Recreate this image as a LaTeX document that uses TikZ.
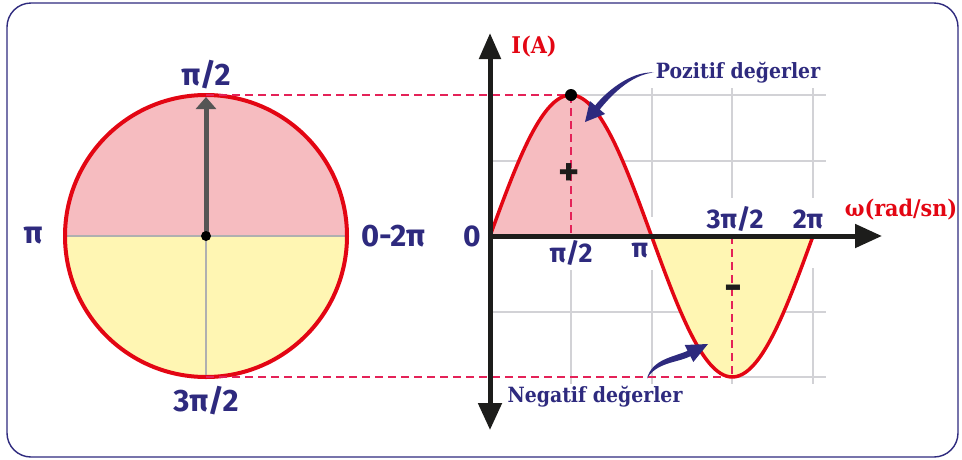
\documentclass[tikz,border=0pt]{standalone}
\usepackage{fontspec}
\setsansfont{Fira Sans}
\newfontfamily\slabfont{DejaVu Serif}[FakeStretch=0.9]
\usepackage{tikz}
\usetikzlibrary{arrows.meta,calc}

\definecolor{navy}{RGB}{46,42,126}
\definecolor{curvered}{RGB}{227,6,19}
\definecolor{posfill}{RGB}{246,188,192}
\definecolor{negfill}{RGB}{255,246,179}
\definecolor{dashred}{RGB}{228,34,88}
\definecolor{gridgray}{RGB}{210,210,214}
\definecolor{axisgray}{RGB}{176,176,176}
\definecolor{phasorgray}{RGB}{85,85,85}
\definecolor{axisblack}{RGB}{29,29,27}

\begin{document}
\begin{tikzpicture}[
    x=1pt, y=-1pt,
    frame/.style={draw=navy, line width=1.4pt, rounded corners=24pt},
    angle/.style={font=\sffamily\bfseries\fontsize{31}{31}\selectfont, text=navy, inner sep=0pt},
    tick/.style={font=\sffamily\bfseries\fontsize{27}{27}\selectfont, text=navy, inner sep=0pt},
    axislabel/.style={font=\slabfont\bfseries\fontsize{23}{23}\selectfont, text=curvered, inner sep=0pt},
    note/.style={font=\slabfont\bfseries\fontsize{21}{21}\selectfont, text=navy, inner sep=0pt},
    sign/.style={font=\sffamily\bfseries\fontsize{40}{40}\selectfont, text=axisblack, inner sep=0pt},
    axis/.style={draw=axisblack, line width=5pt},
    gridline/.style={draw=gridgray, line width=2.5pt},
    guide/.style={draw=dashred, line width=1.3pt, dash pattern=on 8pt off 5pt},
    wave/.style={draw=curvered, line width=3.5pt},
    phasor/.style={draw=phasorgray, line width=5pt, -{Triangle[length=12pt,width=20pt]}},
    swoosh/.style={fill=navy}
]
\useasboundingbox (0,0) rectangle (962,459);

% Frame
\draw[frame] (7,3) rectangle (958,457);

% Phasor circle
\coordinate (C) at (206,236);
\coordinate (Ctop) at (206,95);
\coordinate (Cbot) at (206,377);
\fill[posfill] (C) ++(-141,0) arc[start angle=180, end angle=360, radius=141] -- cycle;
\fill[negfill] (C) ++(-141,0) arc[start angle=180, end angle=0, radius=141] -- cycle;
\draw[axisgray, line width=1.5pt] (C) ++(-141,0) -- ++(282,0);
\draw[axisgray, line width=1.5pt] (C) -- (Cbot);
\draw[curvered, line width=4pt] (C) circle[radius=141];
\draw[phasor] (C) -- (206,97);
\fill[black] (C) circle[radius=5];

\node[angle] (ctop) at (206,75) {π/2};
\node[angle] (cleft) at (33,236) {π};
\node[angle] (cright) at (393,236) {0-2π};
\node[angle] (cbot) at (206,401) {3π/2};

% Grid
\draw[gridline] (571,270) -- (571,384);
\draw[gridline] (652,88) -- (652,217);
\draw[gridline] (652,270) -- (652,384);
\draw[gridline] (732,88) -- (732,198);
\draw[gridline] (732,270) -- (732,384);
\draw[gridline] (813,88) -- (813,198);
\draw[gridline] (813,268) -- (813,384);
\draw[gridline] (571,95) -- (826,95);
\draw[gridline] (490,161) -- (826,161);
\draw[gridline] (490,312) -- (826,312);
\draw[gridline] (732,377) -- (826,377);

% Half waves
\coordinate (O) at (490,236);
\coordinate (P) at (571,95);
\coordinate (T) at (732,377);
\fill[posfill] plot[domain=0:180, samples=60] ({490+(\x/360)*323},{236-141*sin(\x)}) -- cycle;
\fill[negfill] plot[domain=180:360, samples=60] ({490+(\x/360)*323},{236-141*sin(\x)}) -- cycle;

% Guide lines
\draw[guide] (Ctop) -- (P);
\draw[guide] (Cbot) -- (T);
\draw[guide] (P) -- (571,236);
\draw[guide] (732,236) -- (T);

\draw[wave] plot[domain=0:360, samples=120] ({490+(\x/360)*323},{236-141*sin(\x)});

% Axes
\draw[axis, {Triangle[length=27pt,width=23pt]}-{Triangle[length=26pt,width=21pt]}] (490,430) -- (490,33);
\draw[axis, -{Triangle[length=27pt,width=23pt]}] (O) -- (882,236);
\fill[black] (P) circle[radius=6];

% Labels
\node[tick, font=\sffamily\bfseries\fontsize{30}{30}\selectfont] (zero) at (472,236) {0};
\node[tick] (halfpi) at (571,253) {π/2};
\node[tick] (pi) at (640,251) {π};
\node[tick] (threehalf) at (735,219) {3π/2};
\node[tick] (twopi) at (808,219) {2π};
\node[axislabel] (ia) at (534,47) {I(A)};
\node[axislabel] (omega) at (901,210) {ω(rad/sn)};
\node[sign] (plus) at (569,175) {+};
\node[sign, font=\sffamily\bfseries\fontsize{44}{44}\selectfont] (minus) at (733,293) {-};

% Notes
\node[note] (pz) at (738,73) {Pozitif değerler};
\node[note] (ng) at (595,397) {Negatif değerler};
\coordinate (pzTail) at (654,72.5);
\coordinate (pzTip) at (585,122);
\coordinate (ngTail) at (647,378.5);
\coordinate (ngTip) at (708,344);
\fill[swoosh] (pzTail) .. controls (630,71) and (605,93) .. (595.2,105.5)
    -- (589.9,101) -- (pzTip) -- (605.1,114) -- (599.8,109.5)
    .. controls (609,98) and (630,74.5) .. cycle;
\fill[swoosh] (ngTail) .. controls (652,359) and (674,357) .. (687.6,350.8)
    -- (684.7,345) -- (ngTip) -- (693.3,362) -- (690.4,356.2)
    .. controls (677,363) and (657,362) .. cycle;

\end{tikzpicture}
\end{document}
